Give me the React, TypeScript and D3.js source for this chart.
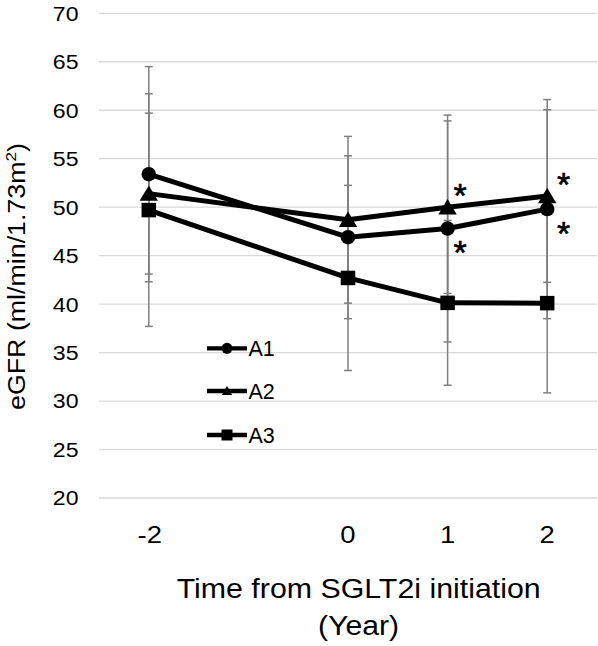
import React from "react";
import * as d3 from "d3";

const years = [-2, 0, 1, 2];
const yTicks = [20, 25, 30, 35, 40, 45, 50, 55, 60, 65, 70];
const seriesNames = ["A1", "A2", "A3"];
const a1Mean = [53.4, 46.9, 47.8, 49.8];
const a1Sd = [11.1, 8.4, 11.7, 11.3];
const a2Mean = [51.4, 48.7, 50.0, 51.15];
const a2Sd = [8.3, 8.6, 8.9, 8.9];
const a3Mean = [49.7, 42.7, 40.13, 40.1];
const a3Sd = [12.0, 9.55, 8.5, 9.25];
const markers = ["circle", "triangle", "square"];
// significance asterisks: series index, year, placement
const starSeries = [1, 0, 1, 0];
const starYears = [1, 1, 2, 2];
const starSide = ["above", "below", "above", "below"];

const W = 598;
const H = 646;
const FONT = "'Liberation Sans', Arial, sans-serif";

const means = [a1Mean, a2Mean, a3Mean];
const sds = [a1Sd, a2Sd, a3Sd];

function Marker({ type, cx, cy, size }: { type: string; cx: number; cy: number; size: number }) {
  if (type === "circle") return <circle cx={cx} cy={cy} r={size / 2} fill="#000" />;
  if (type === "square")
    return <rect x={cx - size / 2} y={cy - size / 2} width={size} height={size} fill="#000" />;
  const h = size * 0.9;
  const w = size * 1.15;
  return (
    <path
      d={`M${cx},${cy - h / 2 - 1} L${cx + w / 2},${cy + h / 2} L${cx - w / 2},${cy + h / 2} Z`}
      fill="#000"
    />
  );
}

export default function App() {
  const x = d3.scaleLinear().domain([-2.5, 2.5]).range([99, 597]);
  const y = d3.scaleLinear().domain([20, 70]).range([498, 13.3]);
  const line = d3
    .line<number>()
    .x((_, i) => x(years[i]))
    .y((d) => y(d));

  const legendY = [348.3, 391, 435];

  return (
    <svg
      width={W}
      height={H}
      style={{ position: "absolute", left: 0, top: 0, background: "#fff" }}
      fontFamily={FONT}
    >
      <rect width={W} height={H} fill="#fff" />
      {yTicks.map((t) => (
        <line key={t} x1={99} x2={597} y1={y(t)} y2={y(t)} stroke="#d9d9d9" strokeWidth={1.3} />
      ))}
      {yTicks.map((t) => (
        <text
          key={t}
          transform={`translate(78.5,${y(t) + 7.4}) scale(1.1,1)`}
          textAnchor="end"
          fontSize={21}
          fill="#000"
        >
          {t}
        </text>
      ))}
      {years.map((yr) => (
        <text
          key={yr}
          transform={`translate(${x(yr) + (yr < 0 ? 1 : 0)},542.7) scale(1.12,1)`}
          textAnchor="middle"
          fontSize={24.5}
          fill="#000"
        >
          {yr}
        </text>
      ))}
      {means.map((m, si) =>
        m.map((v, i) => {
          const cx = x(years[i]);
          const top = y(v + sds[si][i]);
          const bot = y(v - sds[si][i]);
          return (
            <g key={`${si}-${i}`} stroke="#7f7f7f" strokeWidth={1.5}>
              <line x1={cx} x2={cx} y1={top} y2={bot} />
              <line x1={cx - 4} x2={cx + 4} y1={top} y2={top} />
              <line x1={cx - 4} x2={cx + 4} y1={bot} y2={bot} />
            </g>
          );
        })
      )}
      {means.map((m, si) => (
        <g key={si}>
          <path d={line(m) || ""} fill="none" stroke="#000" strokeWidth={5} strokeLinejoin="round" />
          {m.map((v, i) => (
            <Marker key={i} type={markers[si]} cx={x(years[i])} cy={y(v)} size={si === 1 ? 16 : 14.5} />
          ))}
        </g>
      ))}
      {starSeries.map((s, k) => {
        const i = years.indexOf(starYears[k]);
        const cx = x(starYears[k]) + (starYears[k] === 1 ? 12.5 : 16.5);
        const cy = y(means[s][i]) + (starSide[k] === "above" ? -17 : 19);
        const fs = 34;
        return (
          <text
            key={k}
            x={cx}
            y={cy + 0.49 * fs}
            textAnchor="middle"
            fontSize={fs}
            fill="#000"
            stroke="#000"
            strokeWidth={0.6}
          >
            *
          </text>
        );
      })}
      {seriesNames.map((n, si) => (
        <g key={n}>
          <line x1={207} x2={247} y1={legendY[si]} y2={legendY[si]} stroke="#000" strokeWidth={4.3} />
          <Marker type={markers[si]} cx={227} cy={legendY[si]} size={si === 1 ? 9 : 11} />
          <text x={248.5} y={legendY[si] + 7.7} fontSize={21.5} fill="#000">
            {n}
          </text>
        </g>
      ))}
      <text
        x={358.7}
        y={598.3}
        textAnchor="middle"
        fontSize={27}
        fill="#000"
        textLength={364}
        lengthAdjust="spacingAndGlyphs"
      >
        Time from SGLT2i initiation
      </text>
      <text x={358.6} y={634.5} textAnchor="middle" fontSize={27} fill="#000" textLength={81} lengthAdjust="spacingAndGlyphs">
        (Year)
      </text>
      <text
        transform="translate(24.5,276.5) rotate(-90)"
        textAnchor="middle"
        fontSize={23.5}
        fill="#000"
        textLength={267}
        lengthAdjust="spacingAndGlyphs"
      >
        eGFR (ml/min/1.73m<tspan fontSize={15} dy={-9}>2</tspan>
        <tspan dy={9}>)</tspan>
      </text>
    </svg>
  );
}
